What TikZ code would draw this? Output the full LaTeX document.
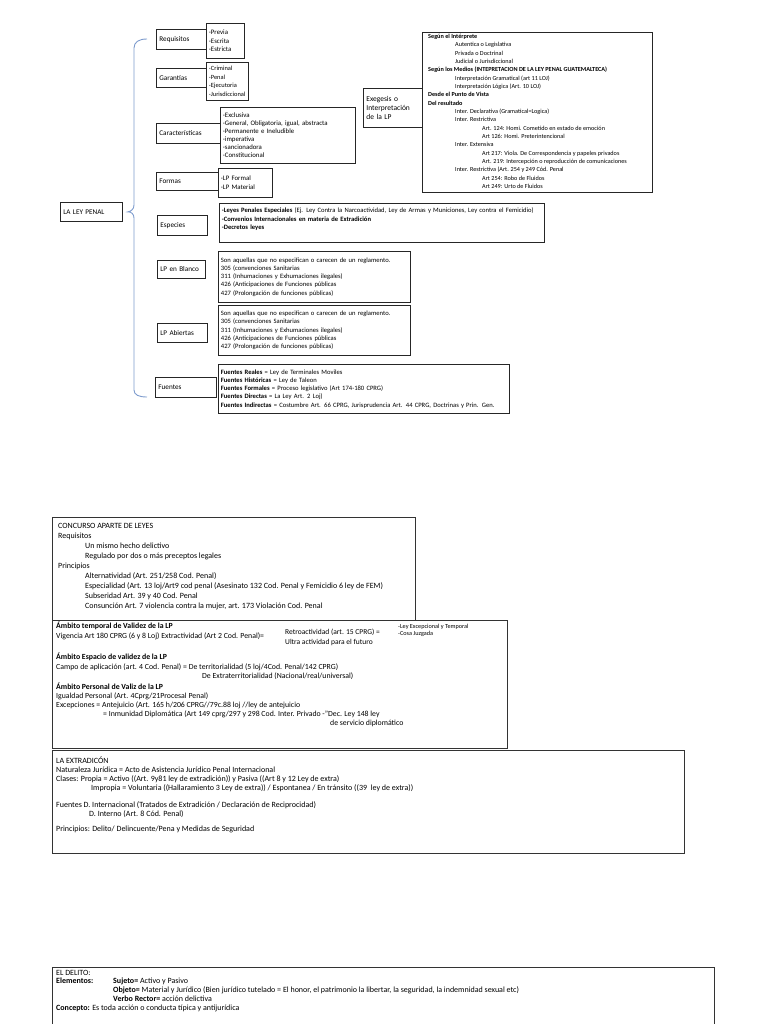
\documentclass[tikz,border=0pt]{standalone}
\usepackage{fontspec}
\setmainfont{Carlito}
\usetikzlibrary{positioning}

\definecolor{bracecol}{RGB}{125,155,205}
\newcommand{\tabA}{\hspace*{27pt}}
\newcommand{\tabB}{\hspace*{54pt}}

\tikzset{
  box/.style={draw=black!85, line width=0.8pt, anchor=north west, inner sep=0pt},
  lblbox/.style={box, inner xsep=3pt, align=left, font=\fontsize{7.2}{8}\selectfont},
  subbox/.style={box, inner xsep=2.5pt, align=left, font=\fontsize{6.8}{8.5}\selectfont},
  bigbox/.style={box, line width=1pt, draw=black!80},
  txt/.style={anchor=north west, inner sep=0pt, align=left, execute at begin node=\strut},
  brace/.style={draw=bracecol, line width=0.9pt}
}

\begin{document}
\begin{tikzpicture}[x=1pt, y=-1pt]
\useasboundingbox (0,0) rectangle (768,1024);

% La ley penal
\node[lblbox, text width=56pt, minimum height=19pt] (ley) at (60,202) {LA LEY PENAL};

\node[lblbox, text width=44pt, minimum height=20pt] (req) at (156,29) {Requisitos};
\node[subbox, text width=33pt, minimum height=35pt] (reqS) at (206,23) {-Previa\\-Escrita\\-Estricta};

\node[lblbox, text width=44pt, minimum height=19pt] (gar) at (156,68) {Garantías};
\node[subbox, text width=37pt, minimum height=38pt, font=\fontsize{6.4}{8.5}\selectfont] (garS) at (206,62)
  {\mbox{-Criminal}\\\mbox{-Penal}\\\mbox{-Ejecutoria}\\\mbox{-Jurisdiccional}};

\node[lblbox, text width=58pt, minimum height=20pt] (car) at (156,123) {Características};
\node[subbox, text width=130pt, minimum height=56pt, font=\fontsize{6.8}{8.1}\selectfont] (carS) at (220,107)
  {-Exclusiva\\-General, Obligatoria, igual, abstracta\\-Permanente e Ineludible\\-imperativa\\-sancionadora\\-Constitucional};

\node[lblbox, text width=56pt, minimum height=18pt] (for) at (156,172) {Formas};
\node[subbox, text width=49pt, minimum height=29pt] (forS) at (218,168) {-LP Formal\\-LP Material};

\node[lblbox, text width=44pt, minimum height=20pt] (esp) at (157,215) {Especies};
\node[subbox, text width=320pt, minimum height=39pt, font=\fontsize{6.6}{8.5}\selectfont] (espS) at (219,203)
  {\textbf{-Leyes Penales Especiales} (Ej. Ley Contra la Narcoactividad, Ley de Armas y Municiones, Ley contra el Femicidio)\\
   \textbf{-Convenios Internacionales en materia de Extradición}\\
   \textbf{-Decretos leyes}\\ ~};

\node[lblbox, text width=42pt, minimum height=18pt] (bla) at (157,260) {LP en Blanco};
\node[subbox, text width=187pt, minimum height=51pt, font=\fontsize{6.6}{8.3}\selectfont] (blaS) at (218,251)
  {Son aquellas que no especifican o carecen de un reglamento.\\
   305 (convenciones Sanitarias\\
   311 (Inhumaciones y Exhumaciones ilegales)\\
   426 (Anticipaciones de Funciones públicas\\
   427 (Prolongación de funciones públicas)};

\node[lblbox, text width=44pt, minimum height=19pt] (abi) at (157,323) {LP Abiertas};
\node[subbox, text width=187pt, minimum height=50pt, font=\fontsize{6.6}{8.3}\selectfont] (abiS) at (218,305)
  {Son aquellas que no especifican o carecen de un reglamento.\\
   305 (convenciones Sanitarias\\
   311 (Inhumaciones y Exhumaciones ilegales)\\
   426 (Anticipaciones de Funciones públicas\\
   427 (Prolongación de funciones públicas)};

\node[lblbox, text width=55pt, minimum height=20pt] (fue) at (155,377) {Fuentes};
\node[subbox, text width=286pt, minimum height=49pt, font=\fontsize{6.6}{8.3}\selectfont] (fueS) at (218,364)
  {\textbf{Fuentes Reales} = Ley de Terminales Moviles\\
   \textbf{Fuentes Históricas} = Ley de Taleon\\
   \textbf{Fuentes Formales} = Proceso legislativo (Art 174-180 CPRG)\\
   \textbf{Fuentes Directas} = La Ley Art. 2 Loj)\\
   \textbf{Fuentes Indirectas} = Costumbre Art. 66 CPRG, Jurisprudencia Art. 44 CPRG, Doctrinas y Prin. Gen.};

% brace
\coordinate (bTop) at (147,39);
\coordinate (bBot) at (147,397);
\coordinate (tip) at ([xshift=5pt]ley.east);
\draw[brace] (bTop) .. controls (139,39) and (134,42) .. (134,48) -- (134,205)
  .. controls (134,209) and (131,211.5) .. (tip)
  .. controls (131,211.5) and (134,214) .. (134,218) -- (134,390)
  .. controls (134,395) and (139,397) .. (bBot);

% interpretacion
\node[lblbox, text width=53pt, minimum height=39pt, font=\fontsize{7.5}{9}\selectfont] (exe) at (363,88) {Exegesis o\\Interpretación\\de la LP};
\node[box, minimum width=230pt, minimum height=160pt] (intB) at (422,32) {};
\node[txt, font=\fontsize{6.2}{8.33}\selectfont] (intT) at (428,34.1)
  {\textbf{Según el Intérprete}\\
   \tabA Autentica o Legislativa\\
   \tabA Privada o Doctrinal\\
   \tabA Judicial o Jurisdiccional\\
   \textbf{Según los Medios (INTEPRETACION DE LA LEY PENAL GUATEMALTECA)}\\
   \tabA Interpretación Gramatical (art 11 LOJ)\\
   \tabA Interpretación Lógica (Art. 10 LOJ)\\
   \textbf{Desde el Punto de Vista}\\
   \textbf{Del resultado}\\
   \tabA Inter. Declarativa (Gramatical=Logica)\\
   \tabA Inter. Restrictiva\\
   \tabB Art. 124: Homi. Cometido en estado de emoción\\
   \tabB Art 126: Homi. Preterintencional\\
   \tabA Inter. Extensiva\\
   \tabB Art 217: Viola. De Correspondencia y papeles privados\\
   \tabB Art. 219: Intercepción o reproducción de comunicaciones\\
   \tabA Inter. Restrictiva (Art. 254 y 249 Cód. Penal\\
   \tabB Art 254: Robo de Fluidos\\
   \tabB Art 249: Urto de Fluidos};

% concurso aparente
\node[bigbox, minimum width=363pt, minimum height=103pt] (conB) at (52,517) {};
\node[txt, font=\fontsize{8}{10}\selectfont] (conT) at (58,523.6)
  {CONCURSO APARTE DE LEYES\\
   Requisitos\\
   \tabA Un mismo hecho delictivo\\
   \tabA Regulado por dos o más preceptos legales\\
   Principios\\
   \tabA Alternatividad (Art. 251/258 Cod. Penal)\\
   \tabA Especialidad (Art. 13 loj/Art9 cod penal (Asesinato 132 Cod. Penal y Femicidio 6 ley de FEM)\\
   \tabA Subseridad Art. 39 y 40 Cod. Penal\\
   \tabA Consunción Art. 7 violencia contra la mujer, art. 173 Violación Cod. Penal};

% ambitos
\node[bigbox, minimum width=455pt, minimum height=128pt] (ambB) at (52,620) {};
\node[txt, font=\fontsize{7.8}{9.3}\selectfont] (ambT) at (56,622)
  {\textbf{Ámbito temporal de Validez de la LP}\\
   Vigencia Art 180 CPRG (6 y 8 Loj) Extractividad (Art 2 Cod. Penal)=};
\node[txt, font=\fontsize{7.5}{10.5}\selectfont] (retT) at (285,628.5)
  {Retroactividad (art. 15 CPRG) =\\ Ultra actividad para el futuro};
\node[txt, font=\fontsize{6.2}{7}\selectfont] (excT) at (398,624)
  {-Ley Excepcional y Temporal\\ -Cosa Juzgada};
\node[txt, font=\fontsize{7.8}{9.5}\selectfont] (ambE) at (56,653)
  {\textbf{Ámbito Espacio de validez de la LP}\\
   Campo de aplicación (art. 4 Cod. Penal) = De territorialidad (5 loj/4Cod. Penal/142 CPRG)\\
   \hspace*{146pt}De Extraterritorialidad (Nacional/real/universal)};
\node[txt, font=\fontsize{7.8}{9}\selectfont] (ambP) at (56,682.4)
  {\textbf{Ámbito Personal de Valiz de la LP}\\
   Igualdad Personal (Art. 4Cprg/21Procesal Penal)\\
   Excepciones = Antejuicio (Art. 165 h/206 CPRG//79c.88 loj //ley de antejuicio\\
   \hspace*{47pt}= Inmunidad Diplomática (Art 149 cprg/297 y 298 Cod. Inter. Privado -"Dec. Ley 148 ley\\
   \hspace*{274pt}de servicio diplomático};

% extradicion
\node[bigbox, minimum width=632pt, minimum height=103pt] (extB) at (52,750) {};
\node[txt, font=\fontsize{8}{9}\selectfont] (extT) at (56,756.3)
  {LA EXTRADICÓN\\
   Naturaleza Jurídica = Acto de Asistencia Jurídico Penal Internacional\\
   Clases: Propia = Activo ((Art. 9y81 ley de extradición)) y Pasiva ((Art 8 y 12 Ley de extra)\\
   \hspace*{35pt}Impropia = Voluntaria ((Hallaramiento 3 Ley de extra)) / Espontanea / En tránsito ((39~ ley de extra))};
\node[txt, font=\fontsize{8}{9}\selectfont] (extF) at (56,801.3)
  {Fuentes D. Internacional (Tratados de Extradición / Declaración de Reciprocidad)\\
   \hspace*{33pt}D. Interno (Art. 8 Cód. Penal)};
\node[txt, font=\fontsize{8}{9}\selectfont] (extP) at (56,825.3)
  {Principios: Delito/ Delincuente/Pena y Medidas de Seguridad};

% el delito
\node[bigbox, minimum width=662pt, minimum height=80pt] (delB) at (52,967) {};
\node[txt, font=\fontsize{8}{8.7}\selectfont] (delT) at (56,969.8)
  {EL DELITO:\\
   \makebox[57pt][l]{\textbf{Elementos:}}\textbf{Sujeto=} Activo y Pasivo\\
   \hspace*{57pt}\textbf{Objeto=} Material y Jurídico (Bien jurídico tutelado = El honor, el patrimonio la libertar, la seguridad, la indemnidad sexual etc)\\
   \hspace*{57pt}\textbf{Verbo Rector=} acción delictiva\\
   \textbf{Concepto:} Es toda acción o conducta típica y antijurídica};
\end{tikzpicture}
\end{document}
